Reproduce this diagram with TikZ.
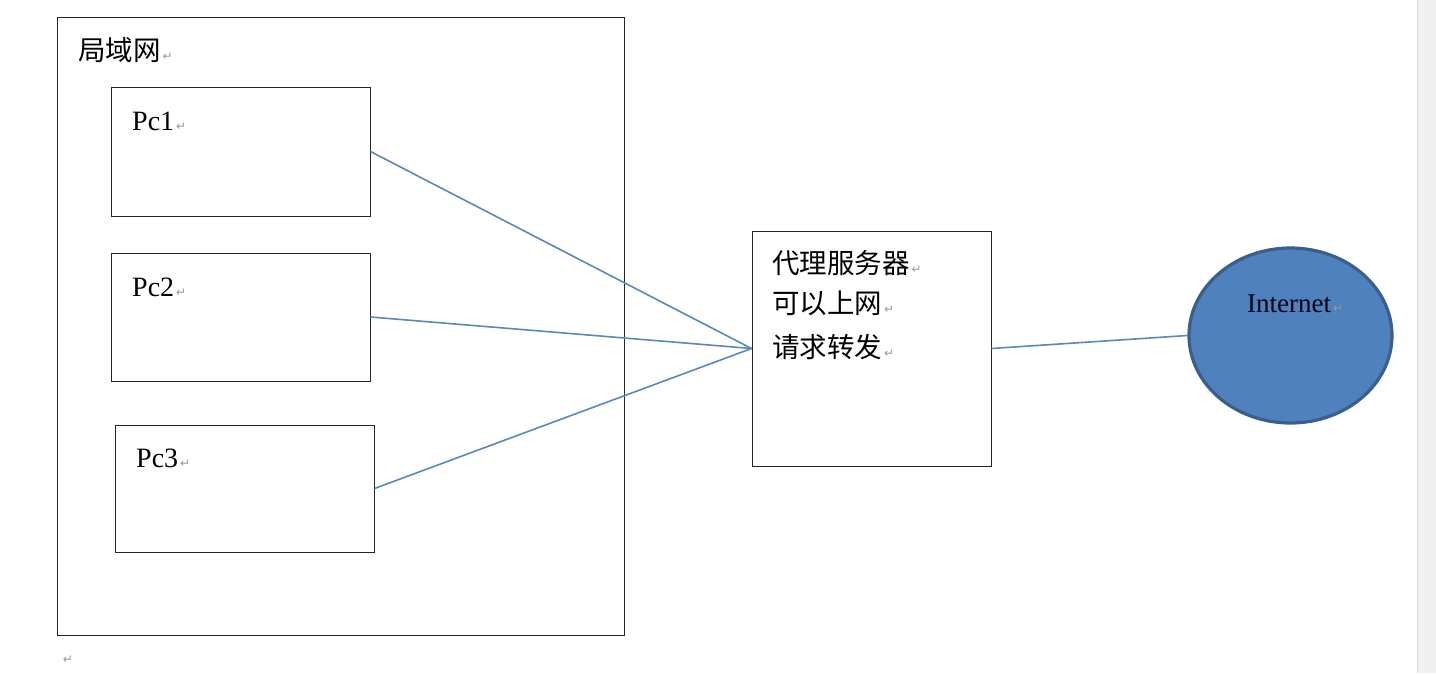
\documentclass[tikz,border=0pt]{standalone}
\usepackage{fontspec}
\setmainfont{Liberation Serif}
\newfontfamily\cjk{Noto Sans CJK SC}
\newfontfamily\dejavu{DejaVu Sans}
\usetikzlibrary{shapes.geometric}
\definecolor{linkblue}{HTML}{5A87BC}
\definecolor{inetfill}{HTML}{4F81BD}
\definecolor{inetdraw}{HTML}{3A5F8C}
\newcommand\retmark{\hspace{2pt}{\dejavu\fontsize{12}{12}\selectfont\color[HTML]{999999}↵}}
\tikzset{
  boxnode/.style={draw=black!85, line width=1pt, inner sep=0pt, fill=none},
  lbl/.style={anchor=west, inner sep=0pt, font=\fontsize{28}{30}\selectfont},
  cjklbl/.style={anchor=west, inner sep=0pt, font=\cjk\fontsize{27.5}{30}\selectfont},
  link/.style={draw=linkblue, line width=1.6pt}
}
\begin{document}
\begin{tikzpicture}[x=1pt,y=-1pt]
\useasboundingbox (0,0) rectangle (1436,673);
\fill[white] (0,0) rectangle (1436,673);
% scrollbar
\fill[black!6] (1417,0) rectangle (1436,673);
\draw[black!15, line width=1pt] (1417,0) -- (1417,673);

\node[boxnode, minimum width=567pt, minimum height=618pt] (lan) at (340.5,326) {};
\node[cjklbl] (lanlbl) at (78,50) {局域网\retmark};

\node[boxnode, minimum width=259pt, minimum height=129pt] (pc1) at (240.5,151.5) {};
\node[boxnode, minimum width=259pt, minimum height=128pt] (pc2) at (240.5,317) {};
\node[boxnode, minimum width=259pt, minimum height=127pt] (pc3) at (244.5,488.5) {};
\node[lbl] (pc1l) at (132,121) {Pc1\retmark};
\node[lbl] (pc2l) at (132,287) {Pc2\retmark};
\node[lbl] (pc3l) at (136,458) {Pc3\retmark};

\node[boxnode, minimum width=239pt, minimum height=235pt] (proxy) at (871.5,348.5) {};
\node[cjklbl] (p1) at (772,263) {代理服务器\retmark};
\node[cjklbl] (p2) at (772,303) {可以上网\retmark};
\node[cjklbl] (p3) at (772,347) {请求转发\retmark};

\node[ellipse, fill=inetfill, draw=inetdraw, line width=3.2pt, minimum width=203pt, minimum height=175pt, inner sep=0pt] (inet) at (1290.5,335.5) {};
\node[lbl, font=\fontsize{27}{28}\selectfont, text=black!90!blue] (inetl) at (1247,304) {Internet\retmark};

\draw[link] (pc1.east) -- (proxy.west);
\draw[link] (pc2.east) -- (proxy.west);
\draw[link] (pc3.east) -- (proxy.west);
\draw[link] (proxy.east) -- (inet.west);

\node[inner sep=0pt] (endmark) at (67,660) {\retmark};
\end{tikzpicture}
\end{document}
